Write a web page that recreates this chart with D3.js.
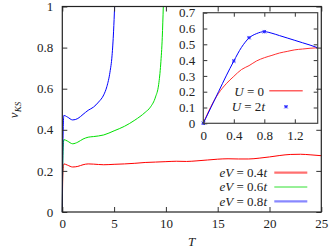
<!DOCTYPE html>
<html>
<head>
<meta charset="utf-8">
<script src="https://cdn.jsdelivr.net/npm/d3@7"></script>
<style>
  body { margin: 0; background: #fff; }
</style>
</head>
<body>
<svg id="chart" width="332" height="248" font-family="Liberation Serif"></svg>
<script>
// main plot data, T vs v_KS
var redT = [0, 0.05, 0.15, 0.5, 1, 1.5, 2, 2.5, 3, 4, 5, 6, 7, 8, 9, 10, 11, 12, 13, 14, 15, 16, 17, 18, 19, 20, 21, 22, 23, 24, 25];
var redV = [0, 0.18, 0.234, 0.228, 0.219, 0.222, 0.23, 0.234, 0.233, 0.23, 0.232, 0.234, 0.237, 0.241, 0.243, 0.245, 0.247, 0.246, 0.249, 0.253, 0.257, 0.259, 0.258, 0.258, 0.262, 0.268, 0.275, 0.28, 0.281, 0.278, 0.274];
var greenT = [0, 0.05, 0.15, 0.5, 1, 1.5, 2, 2.5, 3, 4, 5, 6, 7, 8, 8.5, 9, 9.3, 9.5, 9.65, 9.75];
var greenV = [0, 0.25, 0.352, 0.345, 0.332, 0.34, 0.355, 0.364, 0.367, 0.375, 0.395, 0.417, 0.447, 0.485, 0.51, 0.56, 0.62, 0.72, 0.85, 1.0];
var blueT = [0, 0.05, 0.15, 0.5, 1, 1.5, 2, 2.5, 3, 3.5, 4, 4.3, 4.6, 4.8, 4.95, 5.05];
var blueV = [0, 0.3, 0.47, 0.462, 0.448, 0.455, 0.475, 0.495, 0.51, 0.535, 0.57, 0.61, 0.68, 0.76, 0.88, 1.0];
var mainXTicks = [0, 5, 10, 15, 20, 25];
var mainYTicks = [0, 0.2, 0.4, 0.6, 0.8, 1];
var mainLegend = ["0.4", "0.6", "0.8"];

// inset data
var insetX = [0, 0.1, 0.2, 0.3, 0.4, 0.5, 0.6, 0.7, 0.8, 0.9, 1.0, 1.1, 1.2, 1.3, 1.4, 1.5];
var u0V = [0, 0.106, 0.19, 0.25, 0.297, 0.34, 0.365, 0.395, 0.415, 0.43, 0.445, 0.455, 0.465, 0.47, 0.475, 0.478];
var u2V = [0, 0.1, 0.2, 0.3, 0.394, 0.48, 0.54, 0.568, 0.58, 0.57, 0.555, 0.54, 0.525, 0.51, 0.495, 0.478];
var u2StarX = [0, 0.4, 0.6, 0.8];
var u2StarV = [0, 0.394, 0.542, 0.58];
var insetXTicks = [0, 0.4, 0.8, 1.2];
var insetYTicks = [0, 0.1, 0.2, 0.3, 0.4, 0.5, 0.6, 0.7];

const FONT = "Liberation Serif";
const svg = d3.select("#chart");

const x = d3.scaleLinear().domain([0, 25]).range([62.3, 321.3]);
const y = d3.scaleLinear().domain([0, 1]).range([212, 6.5]);
const xi = d3.scaleLinear().domain([0, 1.5]).range([203.3, 317.7]);
const yi = d3.scaleLinear().domain([0, 0.7]).range([123.3, 12.7]);

function styleAxis(g) {
  g.attr("font-family", FONT).attr("font-size", 13);
  g.select(".domain").remove();
  g.selectAll(".tick line").attr("stroke", "#333");
  g.selectAll(".tick text").attr("fill", "#222").attr("font-family", FONT);
}

function zip(a, b) {
  return a.map((d, i) => [d, b[i]]);
}

// curves
const line = d3.line().x(d => x(d[0])).y(d => y(d[1])).curve(d3.curveMonotoneX);
[[redT, redV, "#ff0000"], [greenT, greenV, "#00e000"], [blueT, blueV, "#0000ff"]].forEach(function (s) {
  svg.append("path")
    .datum(zip(s[0], s[1]))
    .attr("d", line)
    .attr("fill", "none")
    .attr("stroke", s[2])
    .attr("stroke-width", 1);
});

// inset
svg.append("rect")
  .attr("x", xi(0)).attr("y", yi(0.7))
  .attr("width", xi(1.5) - xi(0)).attr("height", yi(0) - yi(0.7))
  .attr("fill", "#fff");

const lineI = d3.line().x(d => xi(d[0])).y(d => yi(d[1])).curve(d3.curveMonotoneX);
svg.append("path").datum(zip(insetX, u0V)).attr("d", lineI)
  .attr("fill", "none").attr("stroke", "#ff3030").attr("stroke-width", 1);
svg.append("path").datum(zip(insetX, u2V)).attr("d", lineI)
  .attr("fill", "none").attr("stroke", "#0000ff").attr("stroke-width", 1);

function star(g, cx, cy) {
  var r = 1.7;
  g.append("path")
    .attr("d", "M" + (cx - r) + "," + (cy - r) + "L" + (cx + r) + "," + (cy + r) +
      "M" + (cx - r) + "," + (cy + r) + "L" + (cx + r) + "," + (cy - r) +
      "M" + (cx - r) + "," + cy + "L" + (cx + r) + "," + cy +
      "M" + cx + "," + (cy - r) + "L" + cx + "," + (cy + r))
    .attr("stroke", "#2020ff").attr("stroke-width", 0.9).attr("fill", "none");
}
const stars = svg.append("g");
u2StarX.forEach((d, i) => star(stars, xi(d), yi(u2StarV[i])));

svg.append("g").attr("transform", "translate(0," + yi(0) + ")")
  .call(d3.axisBottom(xi).tickValues(insetXTicks).tickSizeInner(-4).tickSizeOuter(0).tickPadding(7).tickFormat(d => String(d)))
  .call(styleAxis);
svg.append("g").attr("transform", "translate(0," + yi(0.7) + ")")
  .call(d3.axisTop(xi).tickValues(insetXTicks.slice(1)).tickSizeInner(-4).tickSizeOuter(0).tickFormat(""))
  .call(styleAxis);
svg.append("g").attr("transform", "translate(" + xi(0) + ",0)")
  .call(d3.axisLeft(yi).tickValues(insetYTicks).tickSizeInner(-4).tickSizeOuter(0).tickPadding(8).tickFormat(d => String(d)))
  .call(styleAxis);
svg.append("g").attr("transform", "translate(" + xi(1.5) + ",0)")
  .call(d3.axisRight(yi).tickValues(insetYTicks.slice(1, 7)).tickSizeInner(-4).tickSizeOuter(0).tickFormat(""))
  .call(styleAxis);
svg.append("rect")
  .attr("x", xi(0)).attr("y", yi(0.7))
  .attr("width", xi(1.5) - xi(0)).attr("height", yi(0) - yi(0.7))
  .attr("fill", "none").attr("stroke", "#444").attr("stroke-width", 1.2);

// inset legend
const il = svg.append("g");
function mathLabel(g, xr, yb, parts) {
  var t = g.append("text").attr("x", xr).attr("y", yb).attr("text-anchor", "end")
    .attr("font-family", FONT).attr("font-size", 13).attr("fill", "#222");
  parts.forEach(function (p) {
    t.append("tspan").attr("font-family", FONT)
      .attr("font-style", p[1] ? "italic" : "normal").text(p[0]);
  });
  return t;
}
mathLabel(il, 264, 95.5, [["U", 1], [" = 0", 0]]);
mathLabel(il, 265, 111, [["U", 1], [" = 2", 0], ["t", 1]]);
il.append("line").attr("x1", 269.3).attr("x2", 302.7).attr("y1", 90.7).attr("y2", 90.7)
  .attr("stroke", "#ff6060").attr("stroke-width", 1.6);
star(il, 286, 106.7);

// main axes
svg.append("g").attr("transform", "translate(0," + y(0) + ")")
  .call(d3.axisBottom(x).tickValues(mainXTicks).tickSizeInner(-5).tickSizeOuter(0).tickPadding(7).tickFormat(d => String(d)))
  .call(styleAxis);
svg.append("g").attr("transform", "translate(0," + y(1) + ")")
  .call(d3.axisTop(x).tickValues(mainXTicks).tickSizeInner(-5).tickSizeOuter(0).tickFormat(""))
  .call(styleAxis);
svg.append("g").attr("transform", "translate(" + x(0) + ",0)")
  .call(d3.axisLeft(y).tickValues(mainYTicks).tickSizeInner(-5).tickSizeOuter(0).tickPadding(9).tickFormat(d => String(d)))
  .call(styleAxis);
svg.append("g").attr("transform", "translate(" + x(25) + ",0)")
  .call(d3.axisRight(y).tickValues(mainYTicks).tickSizeInner(-5).tickSizeOuter(0).tickFormat(""))
  .call(styleAxis);
svg.append("rect")
  .attr("x", x(0)).attr("y", y(1))
  .attr("width", x(25) - x(0)).attr("height", y(0) - y(1))
  .attr("fill", "none").attr("stroke", "#222").attr("stroke-width", 1.2);

// main legend
const ml = svg.append("g");
var legColors = ["#ff7070", "#30e030", "#8888ff"];
var legWidths = [2.2, 1, 2.2];
mainLegend.forEach(function (v, i) {
  var yb = 177 + i * 14.3;
  mathLabel(ml, 267, yb, [["eV", 1], [" = " + v, 0], ["t", 1]]);
  ml.append("line").attr("x1", 274.3).attr("x2", 307.3).attr("y1", yb - 4.3).attr("y2", yb - 4.3)
    .attr("stroke", legColors[i]).attr("stroke-width", legWidths[i]);
});

// axis titles
svg.append("text").attr("x", 191.5).attr("y", 246).attr("text-anchor", "middle")
  .attr("font-family", FONT).attr("font-size", 13).attr("font-style", "italic").attr("fill", "#222").text("T");
const yl = svg.append("text")
  .attr("transform", "translate(18,110) rotate(-90)")
  .attr("text-anchor", "middle").attr("font-family", FONT).attr("font-size", 13).attr("fill", "#222");
yl.append("tspan").attr("font-family", FONT).attr("font-style", "italic").text("v");
yl.append("tspan").attr("font-family", FONT).attr("font-style", "italic").attr("font-size", 9).attr("dy", 3).text("KS");
</script>
</body>
</html>
